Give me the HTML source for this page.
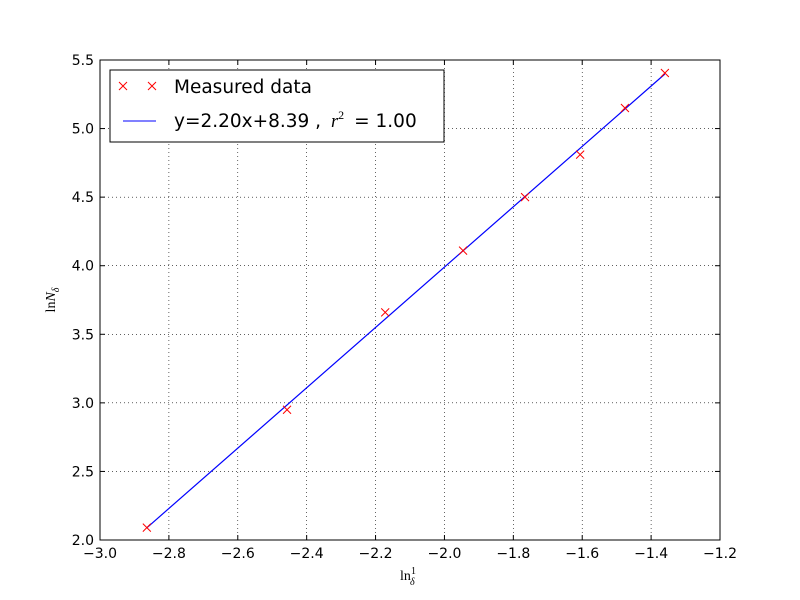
<!DOCTYPE html>
<html><head><meta charset="utf-8"><style>
body{margin:0;background:#fff}
svg{display:block;font-family:"DejaVu Sans","Liberation Sans",sans-serif}
</style></head><body>
<svg id="chart" width="800" height="600">
<rect width="800" height="600" fill="#fff"/>
<g id="grid"></g><g id="ticks"></g><g id="marks"></g>
<rect x="100" y="60" width="620" height="480" fill="none" stroke="#000" stroke-width="1"/>
<text x="408" y="580" font-family="Liberation Serif,serif" font-size="14" text-anchor="middle">ln<tspan font-size="10" dy="-6">1</tspan><tspan font-size="10" font-style="italic" dx="-6" dy="11">δ</tspan></text>
<text transform="translate(55,300) rotate(-90)" font-family="Liberation Serif,serif" font-size="14" text-anchor="middle">ln<tspan font-style="italic">N</tspan><tspan font-size="10" font-style="italic" dy="4">δ</tspan></text>
<g>
<rect x="110" y="70" width="334" height="72" fill="#fff" stroke="#000"/>
<g>
<path d="M119,82 l8,8 M127,82 l-8,8 M148,82 l8,8 M156,82 l-8,8" stroke="red" stroke-width="1"/>
<text x="174" y="93" font-size="18.5">Measured data</text></g>
<g>
<line x1="123" y1="121" x2="156" y2="121" stroke="blue"/>
<text x="174" y="127" font-size="18.5">y=2.20x+8.39 , <tspan dx="4" font-family="Liberation Serif,serif" font-style="italic">r</tspan><tspan font-family="Liberation Serif,serif" font-size="12" dy="-8">2</tspan><tspan dx="10" dy="8">= 1.00</tspan></text></g>
</g>
</svg>
<script>
const xTicks=[-3.0,-2.8,-2.6,-2.4,-2.2,-2.0,-1.8,-1.6,-1.4,-1.2];
const yTicks=[2.0,2.5,3.0,3.5,4.0,4.5,5.0,5.5];
const xData=[-2.864,-2.457,-2.172,-1.946,-1.766,-1.606,-1.476,-1.36];
const yData=[2.09,2.95,3.66,4.11,4.50,4.81,5.15,5.405];
const slope=2.20, intercept=8.39;
const NS="http://www.w3.org/2000/svg";
const sx=v=>100+(v+3.0)/1.8*620, sy=v=>540-(v-2.0)/3.5*480;
function mk(p,t,a){const e=document.createElementNS(NS,t);for(const k in a)e.setAttribute(k,a[k]);document.getElementById(p).appendChild(e);return e;}
xTicks.forEach(t=>{const x=sx(t);
 const g=mk('grid','line',{x1:x,x2:x,y1:60,y2:540,stroke:'#000','stroke-dasharray':'1,3','stroke-width':0.6});
 
 
 mk('ticks','line',{x1:x,x2:x,y1:540,y2:535,stroke:'#000'});
 mk('ticks','line',{x1:x,x2:x,y1:60,y2:65,stroke:'#000'});
 const l=mk('ticks','text',{x:x,y:558,'font-size':14,'text-anchor':'middle'});l.textContent=(t<0?'\u2212':'')+Math.abs(t).toFixed(1);
 
 
});
yTicks.forEach(t=>{const y=sy(t);
 const g=mk('grid','line',{x1:100,x2:720,y1:y,y2:y,stroke:'#000','stroke-dasharray':'1,3','stroke-width':0.6});
 
 
 mk('ticks','line',{x1:100,x2:105,y1:y,y2:y,stroke:'#000'});
 mk('ticks','line',{x1:720,x2:715,y1:y,y2:y,stroke:'#000'});
 const l=mk('ticks','text',{x:94,y:y+5,'font-size':14,'text-anchor':'end'});l.textContent=t.toFixed(1);
 
 
});
const x0=Math.min(...xData),x1=Math.max(...xData);
const fl=mk('marks','line',{x1:sx(x0),y1:sy(slope*x0+intercept),x2:sx(x1),y2:sy(slope*x1+intercept),stroke:'blue','stroke-width':1.2});


xData.forEach((v,i)=>{const x=sx(v),y=sy(yData[i]);
 const p=mk('marks','path',{d:`M${x-4},${y-4}L${x+4},${y+4}M${x+4},${y-4}L${x-4},${y+4}`,stroke:'red','stroke-width':1});
 
 
});
</script>
</body></html>
